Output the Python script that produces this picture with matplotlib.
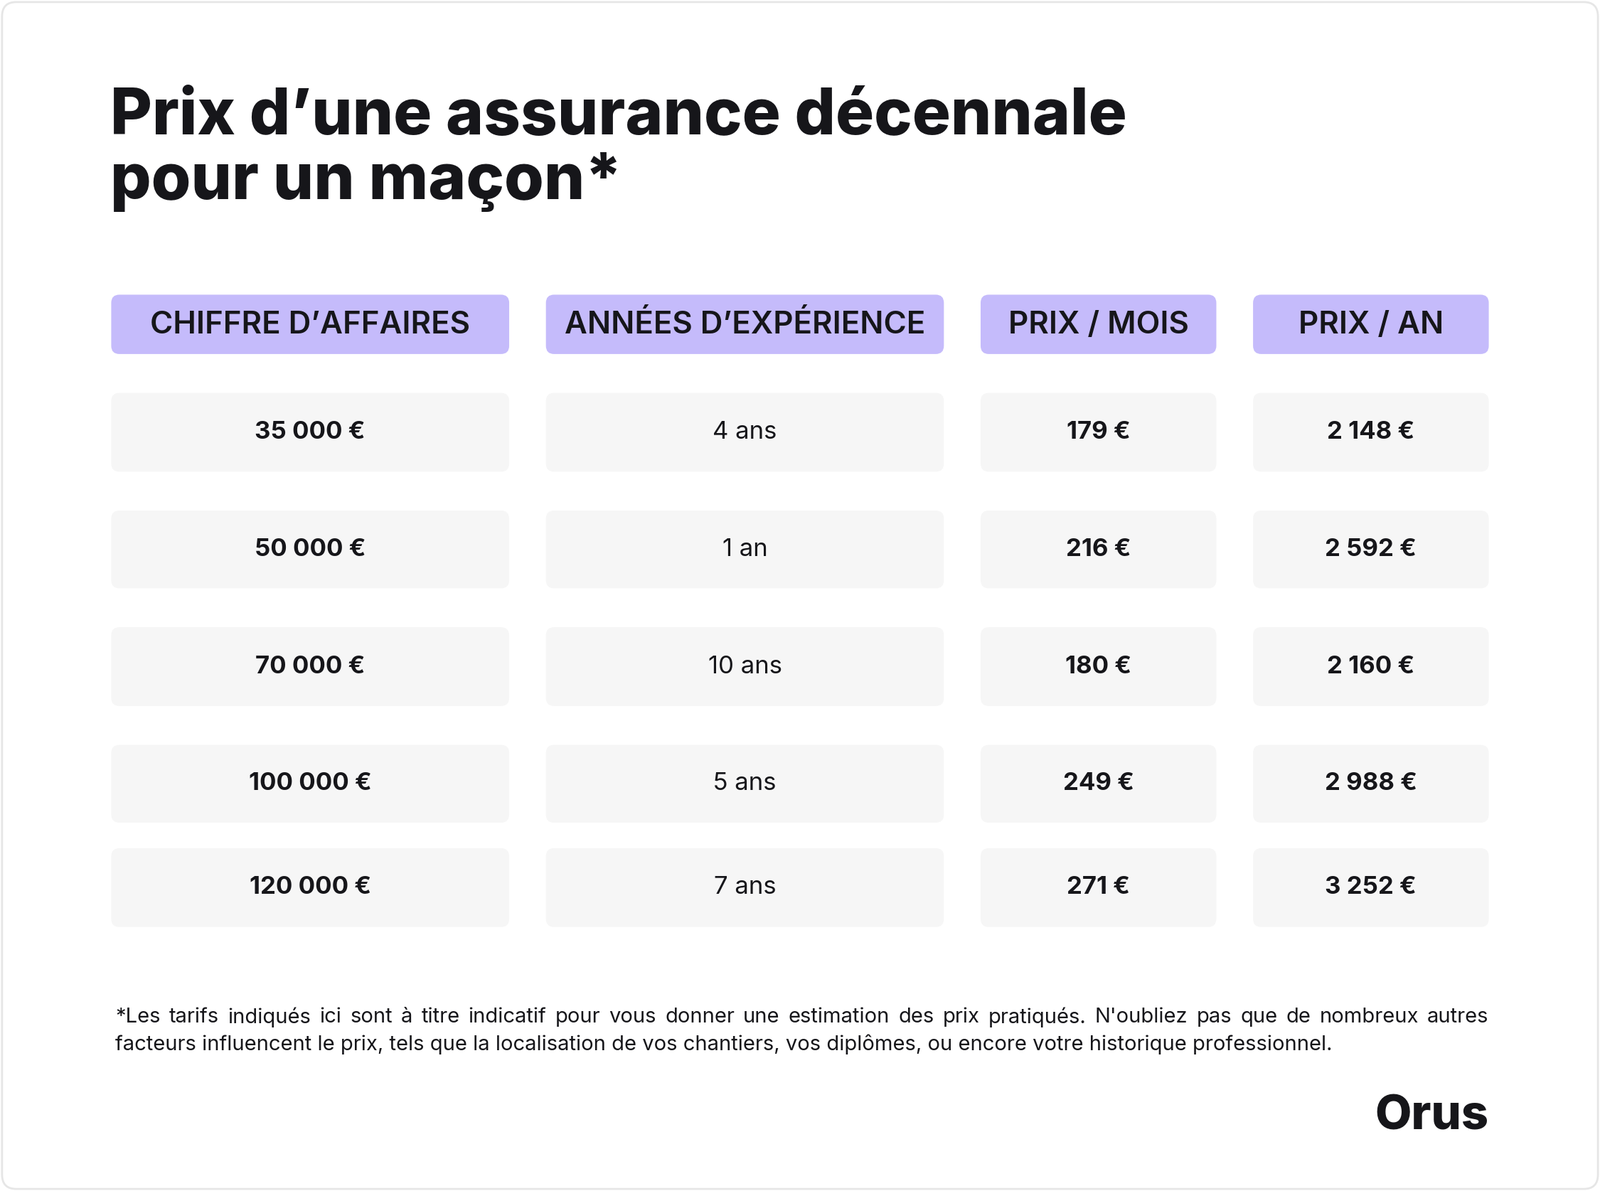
import matplotlib
matplotlib.use("Agg")
import matplotlib.pyplot as plt
from matplotlib.patches import FancyBboxPatch

headers = ["CHIFFRE D’AFFAIRES", "ANNÉES D’EXPÉRIENCE", "PRIX / MOIS", "PRIX / AN"]
chiffre = ["35 000 €", "50 000 €", "70 000 €", "100 000 €", "120 000 €"]
experience = ["4 ans", "1 an", "10 ans", "5 ans", "7 ans"]
prix_mois = ["179 €", "216 €", "180 €", "249 €", "271 €"]
prix_an = ["2 148 €", "2 592 €", "2 160 €", "2 988 €", "3 252 €"]
note1 = "*Les tarifs indiqués ici sont à titre indicatif pour vous donner une estimation des prix pratiqués. N'oubliez pas que de nombreux autres"
note2 = "facteurs influencent le prix, tels que la localisation de vos chantiers, vos diplômes, ou encore votre historique professionnel."

W, H = 1568, 1164
fig = plt.figure(figsize=(22.5, 16.75), dpi=100)
ax = fig.add_axes([0, 0, 1, 1])
ax.set_xlim(0, W); ax.set_ylim(H, 0); ax.axis("off")
FONT = "Inter"
C = "#16161A"

def rbox(x0, y0, x1, y1, fc, ec="none", r=8, lw=0):
    ax.add_patch(FancyBboxPatch((x0 + r, y0 + r), x1 - x0 - 2 * r, y1 - y0 - 2 * r,
                                boxstyle=f"round,pad={r}", fc=fc, ec=ec, lw=lw))

rbox(2, 2, 1566, 1162, "white", ec="#E6E6E6", r=14, lw=2)

ax.text(108, 115, "Prix d’une assurance décennale", fontsize=65, fontweight="heavy",
        family=FONT, color=C, va="center", ha="left")
ax.text(108, 178, "pour un maçon*", fontsize=65, fontweight="heavy",
        family=FONT, color=C, va="center", ha="left")

cols = [(109, 499), (535, 925), (961, 1192), (1228, 1459)]
for (x0, x1), h in zip(cols, headers):
    rbox(x0, 288, x1, 346, "#C5BBFB", r=8)
    ax.text((x0 + x1) / 2, 318, h, fontsize=31.5, fontweight="semibold", family=FONT,
            color=C, ha="center", va="center")

rows = [(384, 461), (499, 575), (613, 690), (728, 804), (829, 906)]
data = [chiffre, experience, prix_mois, prix_an]
for ci, ((x0, x1), col) in enumerate(zip(cols, data)):
    for (y0, y1), v in zip(rows, col):
        rbox(x0, y0, x1, y1, "#F6F6F6", r=8)
        ax.text((x0 + x1) / 2, (y0 + y1) / 2, v, fontsize=25,
                fontweight="normal" if ci == 1 else "bold", family=FONT,
                color=C, ha="center", va="center")

# justified first line
fig.canvas.draw()
rend = fig.canvas.get_renderer()
words = note1.split(" ")
arts = [ax.text(0, 994, w, fontsize=21, family=FONT, color=C, ha="left", va="center") for w in words]
inv = ax.transData.inverted()
widths = []
for a in arts:
    bb = a.get_window_extent(rend)
    p0 = inv.transform((bb.x0, bb.y0)); p1 = inv.transform((bb.x1, bb.y0))
    widths.append(p1[0] - p0[0])
x0, x1 = 113, 1459
gap = (x1 - x0 - sum(widths)) / (len(words) - 1)
x = x0
for a, w in zip(arts, widths):
    a.set_x(x); x += w + gap
ax.text(113, 1021, note2, fontsize=21, family=FONT, color=C, ha="left", va="center")
ax.text(1459, 1092, "Orus", fontsize=48, fontweight="heavy", family=FONT,
        color=C, ha="right", va="center")

fig.savefig("out.png", dpi=100, facecolor="white")
